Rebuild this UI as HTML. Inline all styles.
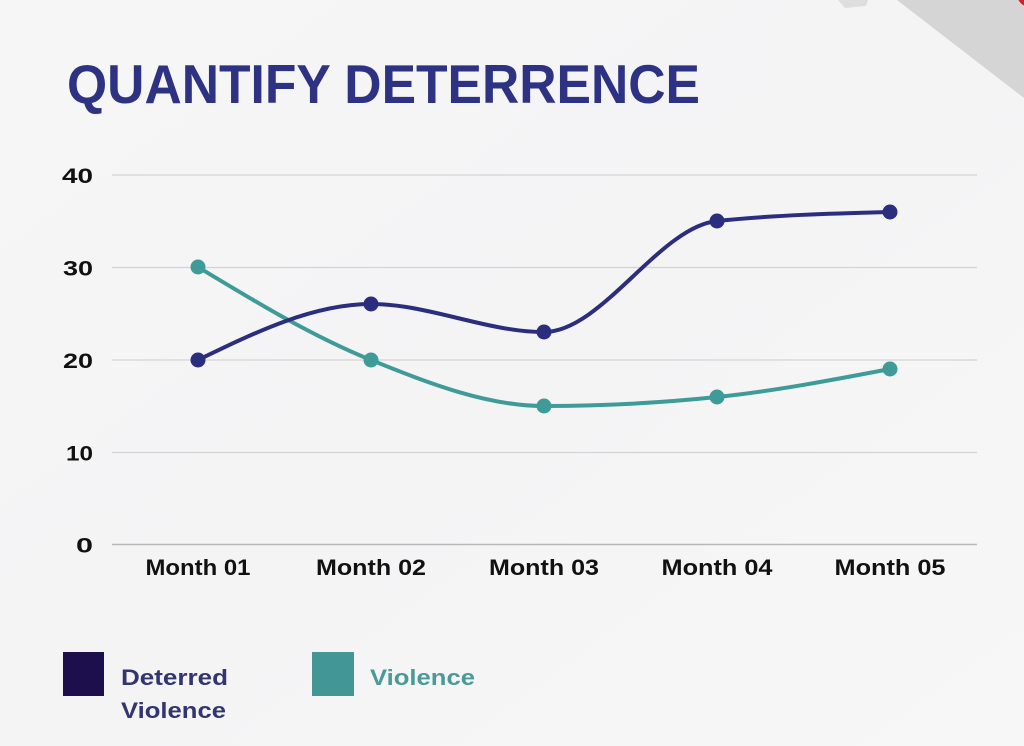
<!DOCTYPE html>
<html>
<head>
<meta charset="utf-8">
<style>
  html, body { margin: 0; padding: 0; }
  body { width: 1024px; height: 746px; overflow: hidden; background: #f5f5f6; }
  svg { display: block; }
  text { font-family: "Liberation Sans", "DejaVu Sans", sans-serif; font-weight: bold; }
</style>
</head>
<body>
<svg width="1024" height="746" viewBox="0 0 1024 746" xmlns="http://www.w3.org/2000/svg">
  <defs>
    <linearGradient id="bg" x1="0" y1="0" x2="1" y2="1">
      <stop offset="0" stop-color="#f6f6f7"/>
      <stop offset="0.5" stop-color="#f4f4f5"/>
      <stop offset="1" stop-color="#f7f7f7"/>
    </linearGradient>
  </defs>
  <rect x="0" y="0" width="1024" height="746" fill="url(#bg)"/>

  <!-- top-right decoration -->
  <polygon points="838,0 868,0 866,6 845,8" fill="#dedede"/>
  <polygon points="897,0 1024,0 1024,98" fill="#d5d5d5"/>
  <circle cx="1030" cy="-6" r="13" fill="#d2202c"/>

  <!-- title -->
  <text x="67" y="103" font-size="55" fill="#2d3282" textLength="633" lengthAdjust="spacingAndGlyphs">QUANTIFY DETERRENCE</text>

  <!-- grid lines -->
  <g stroke="#d3d3d3" stroke-width="1.2">
    <line x1="112" y1="175" x2="977" y2="175"/>
    <line x1="112" y1="267.5" x2="977" y2="267.5"/>
    <line x1="112" y1="360" x2="977" y2="360"/>
    <line x1="112" y1="452.5" x2="977" y2="452.5"/>
  </g>
  <line x1="112" y1="544.5" x2="977" y2="544.5" stroke="#b8b8b8" stroke-width="1.4"/>

  <!-- y tick labels -->
  <g font-size="21" fill="#111111" text-anchor="end">
    <text x="93" y="183" textLength="31" lengthAdjust="spacingAndGlyphs">40</text>
    <text x="93" y="275.5" textLength="30" lengthAdjust="spacingAndGlyphs">30</text>
    <text x="93" y="368" textLength="30" lengthAdjust="spacingAndGlyphs">20</text>
    <text x="93" y="460.5" textLength="27" lengthAdjust="spacingAndGlyphs">10</text>
    <text x="93" y="552.5" textLength="17" lengthAdjust="spacingAndGlyphs">0</text>
  </g>

  <!-- x labels -->
  <g font-size="22" fill="#111111" text-anchor="middle">
    <text x="198" y="575" textLength="105" lengthAdjust="spacingAndGlyphs">Month 01</text>
    <text x="371" y="575" textLength="110" lengthAdjust="spacingAndGlyphs">Month 02</text>
    <text x="544" y="575" textLength="110" lengthAdjust="spacingAndGlyphs">Month 03</text>
    <text x="717" y="575" textLength="111" lengthAdjust="spacingAndGlyphs">Month 04</text>
    <text x="890" y="575" textLength="111" lengthAdjust="spacingAndGlyphs">Month 05</text>
  </g>

  <!-- Violence series -->
  <path d="M198,267 C255.7,301.9 313.3,336.8 371,360 C428.7,383.2 486.3,406 544,406 C601.7,406 659.3,403 717,397 C774.7,391 832.3,380 890,369"
        fill="none" stroke="#3f9b98" stroke-width="4" stroke-linecap="round"/>
  <!-- Deterred series -->
  <path d="M198,360 C255.7,332 313.3,304 371,304 C428.7,304 486.3,332 544,332 C601.7,332 659.3,227 717,221 C774.7,215 832.3,213.5 890,212"
        fill="none" stroke="#2b2d7e" stroke-width="4" stroke-linecap="round"/>

  <g fill="#3f9b98">
    <circle cx="198" cy="267" r="7.5"/>
    <circle cx="371" cy="360" r="7.5"/>
    <circle cx="544" cy="406" r="7.5"/>
    <circle cx="717" cy="397" r="7.5"/>
    <circle cx="890" cy="369" r="7.5"/>
  </g>
  <g fill="#2b2d7e">
    <circle cx="198" cy="360" r="7.5"/>
    <circle cx="371" cy="304" r="7.5"/>
    <circle cx="544" cy="332" r="7.5"/>
    <circle cx="717" cy="221" r="7.5"/>
    <circle cx="890" cy="212" r="7.5"/>
  </g>

  <!-- legend -->
  <rect x="63" y="652" width="41" height="44" fill="#1c0f4c"/>
  <text x="121" y="685" font-size="22" fill="#33356f" textLength="107" lengthAdjust="spacingAndGlyphs">Deterred</text>
  <text x="121" y="718" font-size="22" fill="#33356f" textLength="105" lengthAdjust="spacingAndGlyphs">Violence</text>

  <rect x="312" y="652" width="42" height="44" fill="#429796"/>
  <text x="370" y="685" font-size="22" fill="#4a9a97" textLength="105" lengthAdjust="spacingAndGlyphs">Violence</text>
</svg>
</body>
</html>
